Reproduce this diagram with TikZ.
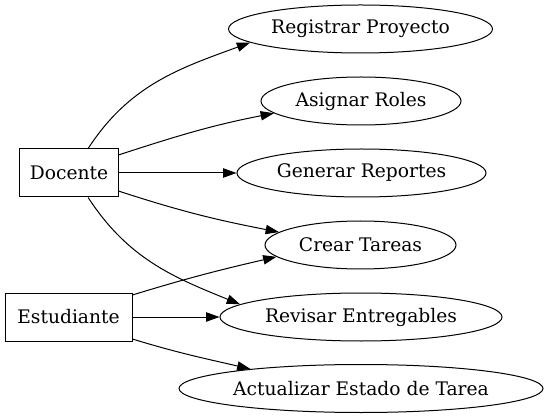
\documentclass[tikz,border=0pt]{standalone}
\usepackage{fontspec}
\setmainfont{DejaVu Serif}
\usetikzlibrary{shapes.geometric,arrows.meta}
\begin{document}
\begin{tikzpicture}[
  every node/.style={font=\fontsize{18.67}{22}\selectfont, line width=1pt, inner sep=0pt},
  usecase/.style={draw, ellipse, minimum height=48pt},
  actor/.style={draw, rectangle, minimum height=48pt},
  edge/.style={line width=1pt, -{Triangle[length=13.3pt,width=9.3pt]}}
]
\useasboundingbox (0,0) rectangle (548pt,-419pt);
\begin{scope}[x=1pt,y=1pt]
\node[usecase, minimum width=264pt] (reg) at (360.5,-29) {Registrar Proyecto};
\node[usecase, minimum width=200pt] (asg) at (361,-101) {Asignar Roles};
\node[usecase, minimum width=249pt] (gen) at (361.5,-173) {Generar Reportes};
\node[usecase, minimum width=191pt] (cre) at (360.5,-245) {Crear Tareas};
\node[usecase, minimum width=282pt] (rev) at (361,-317) {Revisar Entregables};
\node[usecase, minimum width=364pt] (act) at (361,-388.5) {Actualizar Estado de Tarea};
\node[actor, minimum width=99pt] (doc) at (69,-173) {Docente};
\node[actor, minimum width=127pt] (est) at (68.5,-317) {Estudiante};

\draw[edge] (doc.52) to[out=57,in=200] (reg.187);
\draw[edge] (doc.20) to[out=18,in=191] (asg.188);
\draw[edge] (doc.east) -- (gen.west);
\draw[edge] (doc.-20) to[out=-18,in=169] (cre.171);
\draw[edge] (doc.-52) to[out=-57,in=158] (rev.174);
\draw[edge] (est.19) to[out=17,in=193] (cre.188);
\draw[edge] (est.east) -- (rev.west);
\draw[edge] (est.-19) to[out=-17,in=167] (act.170);
\end{scope}
\end{tikzpicture}
\end{document}
